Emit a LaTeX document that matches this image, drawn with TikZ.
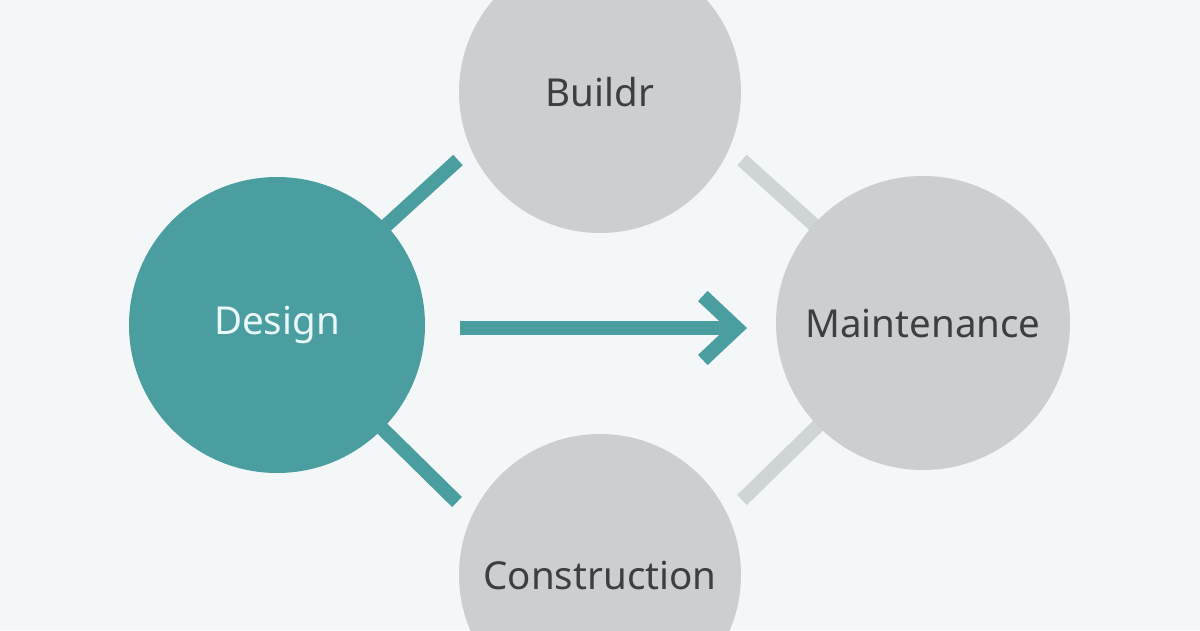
\documentclass[tikz,border=0pt]{standalone}
\usepackage{fontspec}
\setmainfont{Noto Sans}
\definecolor{bg}{HTML}{F3F7F8}
\definecolor{teal1}{HTML}{4A9E9F}
\definecolor{greyc}{HTML}{CBCFD0}
\definecolor{greyl}{HTML}{CFD4D5}
\definecolor{txt}{HTML}{3C3F40}
\definecolor{txtw}{HTML}{EAF8F8}
\begin{document}
\begin{tikzpicture}[x=1pt,y=-1pt,
  bubble/.style={circle,inner sep=0pt,font=\fontsize{38.5}{42}\selectfont},
  greybub/.style={bubble,fill=greyc,text=txt},
  tealbub/.style={bubble,fill=teal1,text=txtw},
  tealline/.style={draw=teal1,line width=14pt,line cap=butt},
  greyline/.style={draw=greyl,line width=14pt,line cap=butt}]
\fill[bg] (0,0) rectangle (1200,630);
\useasboundingbox (0,0) rectangle (1200,630);
\coordinate (dcen) at (277,325);
\coordinate (mcen) at (923,323);
\coordinate (e1) at (458,160);
\coordinate (e2) at (457,502);
\coordinate (e3) at (742,160);
\coordinate (e4) at (742,500);
\draw[tealline] (dcen) -- (e1);
\draw[tealline] (dcen) -- (e2);
\draw[greyline] (e3) -- (mcen);
\draw[greyline] (e4) -- (mcen);
\node[tealbub,minimum size=296pt] (design) at (dcen) {\raisebox{-3pt}{Design}};
\node[greybub,minimum size=282pt] (buildr) at (600,92) {Buildr};
\node[greybub,minimum size=282pt] (constr) at (600,575) {Construction};
\node[greybub,minimum size=294pt] (maint) at (mcen) {Maintenance};
\coordinate (tip) at ([xshift=-39pt,yshift=-5pt]maint.west);
\draw[tealline,shorten <=35pt] (design.east |- tip) -- (tip);
\draw[tealline,miter limit=10,line join=miter] ([xshift=-34pt,yshift=-32pt]tip) -- (tip) -- ([xshift=-34pt,yshift=32pt]tip);
\end{tikzpicture}
\end{document}
